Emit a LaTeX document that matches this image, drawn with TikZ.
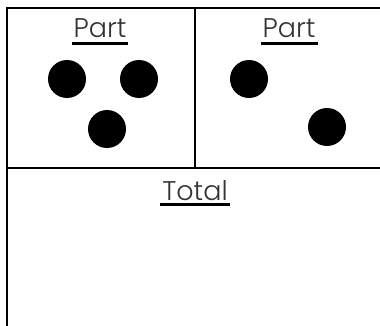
\documentclass[tikz,border=0pt]{standalone}
\usepackage{fontspec}
\setmainfont{Poppins}[UprightFont={* Light}]
\begin{document}
\begin{tikzpicture}[x=1pt,y=-1pt,
  frame/.style={line width=2pt,black},
  dot/.style={circle,fill=black,inner sep=0pt,minimum size=38pt},
  lbl/.style={font=\fontsize{27}{30}\selectfont,text=black!80,inner sep=0pt,anchor=base},
  uline/.style={line width=2.2pt,black}]
\useasboundingbox (0,0) rectangle (380,326);
\fill[white] (0,0) rectangle (380,326);
% frame
\coordinate (tl) at (7,8);
\coordinate (tr) at (380,8);
\coordinate (bl) at (7,326);
\coordinate (ml) at (7,168);
\coordinate (mr) at (380,168);
\coordinate (dt) at (195,8);
\coordinate (db) at (195,168);
\draw[frame] (tr) -- (tl) -- (bl);
\draw[frame] (ml) -- (mr);
\draw[frame] (dt) -- (db);
% labels
\node[lbl] (p1) at (100,38) {Part};
\node[lbl] (p2) at (289,38) {Part};
\node[lbl] (tot) at (195,200) {Total};
\draw[uline] (72,43.5) -- (128,43.5);
\draw[uline] (261,43.5) -- (318,43.5);
\draw[uline] (160,204.5) -- (230,204.5);
% dots
\node[dot] (d1) at (67,79) {};
\node[dot] (d2) at (139,79) {};
\node[dot] (d3) at (107,129) {};
\node[dot] (d4) at (249,79) {};
\node[dot] (d5) at (327,127) {};
\end{tikzpicture}
\end{document}
